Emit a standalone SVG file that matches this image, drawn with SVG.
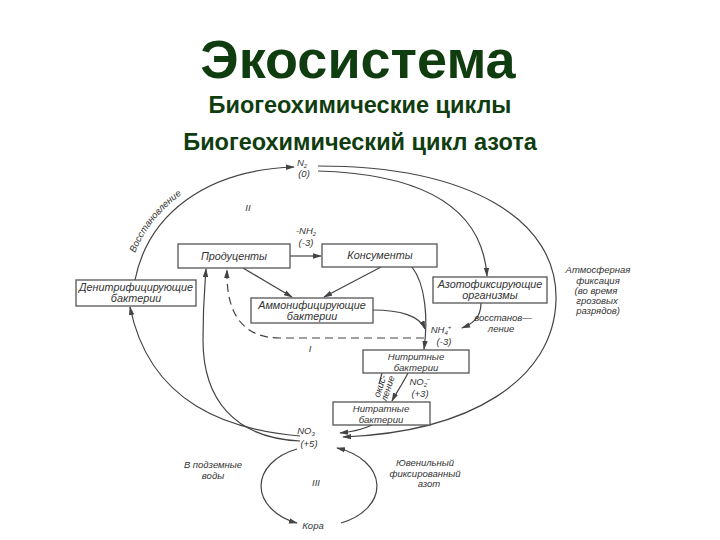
<svg xmlns="http://www.w3.org/2000/svg" width="720" height="540" viewBox="0 0 720 540">
<style>
.t{font-family:"Liberation Sans",Arial,sans-serif;font-weight:bold;fill:#0f3d0f;text-anchor:middle}
.d{font-family:"Liberation Sans",Arial,sans-serif;font-style:italic;fill:#333;font-size:9.5px;text-anchor:middle}
.b{font-family:"Liberation Sans",Arial,sans-serif;font-style:italic;fill:#333;font-size:10.8px;text-anchor:middle}
.s{font-size:9.6px}
.box{fill:#fff;stroke:#555;stroke-width:1.3}
.c{fill:none;stroke:#444;stroke-width:1.2}
.dash{stroke-dasharray:8 5}
</style>
<defs>
<marker id="ah" viewBox="0 0 10 6" refX="9" refY="3" markerWidth="9" markerHeight="6" markerUnits="userSpaceOnUse" orient="auto">
<path d="M0,0 L10,3 L0,6 z" fill="#444"/>
</marker>
<path id="vp" d="M128,276 C141,212 200,164 290,161"/>
</defs>
<rect width="720" height="540" fill="#fff"/>
<g id="title">
<text class="t" x="358" y="78" font-size="54">Экосистема</text>
<text class="t" x="360" y="113" font-size="23.5">Биогеохимические циклы</text>
<text class="t" x="360" y="150" font-size="23.5">Биогеохимический цикл азота</text>
</g>
<g id="connectors">
<path class="c" d="M135,280 C148,215 205,170 294,167" marker-end="url(#ah)"/>
<path class="c" d="M318,171 C420,174 482,205 487,276" marker-end="url(#ah)"/>
<path class="c" d="M318,166 C470,166 558,220 556,300 C554,380 470,432 343,437" marker-end="url(#ah)"/>
<path class="c" d="M290,256 L321,256" marker-end="url(#ah)"/>
<path class="c" d="M243,268 L292,297" marker-end="url(#ah)"/>
<path class="c" d="M381,267 L324,297" marker-end="url(#ah)"/>
<path class="c" d="M412,267 C426,285 428,320 424,349" marker-end="url(#ah)"/>
<path class="c" d="M373,310 C400,310 420,316 425,329" marker-end="url(#ah)"/>
<path class="c dash" d="M424,338 L280,338 C240,338 226,310 227,270" marker-end="url(#ah)"/>
<path class="c" d="M481,303 C481,318 472,324 462,328" marker-end="url(#ah)"/>
<path class="c" d="M408,373 C402,385 396,393 392,401" marker-end="url(#ah)"/>
<path class="c" d="M382,373 L379,384"/>
<path class="c" d="M372,425 C362,430 350,432 340,433" marker-end="url(#ah)"/>
<path class="c" d="M300,436 C230,430 150,405 130,307" marker-end="url(#ah)"/>
<path class="c" d="M300,441 C235,438 203,400 203,340 C203,300 205,285 206,269" marker-end="url(#ah)"/>
<path class="c" d="M297,449 A58,40 0 0 0 297,523" marker-end="url(#ah)"/>
<path class="c" d="M341,523 A58,40 0 0 0 337,448" marker-end="url(#ah)"/>
</g>
<g id="labels">
<text class="d" font-size="8.5" text-anchor="start"><textPath href="#vp" startOffset="62">Восстановление</textPath></text>
<text class="d" x="302" y="166">N<tspan font-size="6" dy="2">2</tspan></text>
<text class="d" x="304" y="177">(0)</text>
<text class="d" x="306" y="234">-NH<tspan font-size="6" dy="2">2</tspan></text>
<text class="d" x="306" y="246">(-3)</text>
<text class="d" x="248" y="211">II</text>
<text class="d" x="310" y="352">I</text>
<text class="d" x="441" y="333">NH<tspan font-size="6" dy="2">4</tspan><tspan font-size="6" dy="-6">+</tspan></text>
<text class="d" x="444" y="345">(-3)</text>
<text class="d" x="503" y="321">восстанов—</text>
<text class="d" x="501" y="332">ление</text>
<text class="d" x="420" y="385">NO<tspan font-size="6" dy="2">2</tspan><tspan font-size="6" dy="-6">−</tspan></text>
<text class="d" x="420" y="397">(+3)</text>
<text class="d" font-size="7" transform="translate(386,388) rotate(-72)"><tspan x="0" y="-3">окис-</tspan><tspan x="0" y="5">ление</tspan></text>
<text class="d" x="306" y="434">NO<tspan font-size="6" dy="2">3</tspan></text>
<text class="d" x="309" y="447">(+5)</text>
<text class="d" x="598" y="273">Атмосферная</text>
<text class="d" x="598" y="284">фиксация</text>
<text class="d" x="596" y="294">(во время</text>
<text class="d" x="597" y="304">грозовых</text>
<text class="d" x="598" y="314">разрядов)</text>
<text class="d" x="213" y="468">В подземные</text>
<text class="d" x="213" y="479">воды</text>
<text class="d" x="425" y="466">Ювенильный</text>
<text class="d" x="425" y="477">фиксированный</text>
<text class="d" x="429" y="487">азот</text>
<text class="d" x="316" y="486">III</text>
<text class="d" x="313" y="529">Кора</text>
</g>
<g id="producers"><rect class="box" x="178" y="244" width="112" height="24"/><text class="b" x="234" y="260">Продуценты</text></g>
<g id="consumers"><rect class="box" x="322" y="244" width="115" height="23"/><text class="b" x="380" y="259">Консументы</text></g>
<g id="denitrifying"><rect class="box" x="76" y="280" width="120" height="26"/><text class="b" x="136" y="291">Денитрифицирующие</text><text class="b" x="136" y="302">бактерии</text></g>
<g id="ammonifying"><rect class="box" x="251" y="298" width="122" height="25"/><text class="b" x="312" y="309">Аммонифицирующие</text><text class="b" x="312" y="320">бактерии</text></g>
<g id="nitrogen-fixing"><rect class="box" x="433" y="277" width="114" height="26"/><text class="b" x="490" y="288">Азотофиксирующие</text><text class="b" x="490" y="299">организмы</text></g>
<g id="nitrite-bacteria"><rect class="box" x="363" y="350" width="106" height="23"/><text class="b s" x="416" y="360">Нитритные</text><text class="b s" x="416" y="371">бактерии</text></g>
<g id="nitrate-bacteria"><rect class="box" x="333" y="402" width="97" height="23"/><text class="b s" x="381" y="412">Нитратные</text><text class="b s" x="381" y="423">бактерии</text></g>
</svg>
